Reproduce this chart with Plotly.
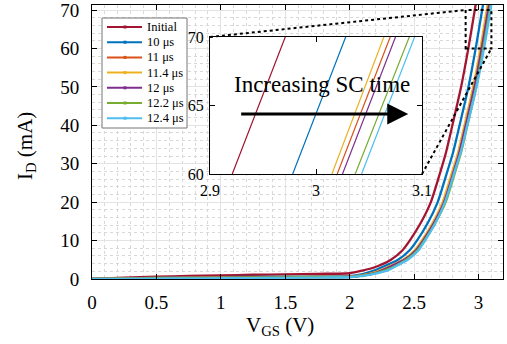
import plotly.graph_objects as go

# ---------------- data ----------------
SERIES = ["Initial", "10 \u03bcs", "11 \u03bcs", "11.4 \u03bcs", "12 \u03bcs", "12.2 \u03bcs", "12.4 \u03bcs"]
COLORS = ["#A2142F", "#0072BD", "#D95319", "#EDB120", "#7E2F8E", "#77AC30", "#4DBEEE"]

V_INITIAL = [0, 0.25, 0.5, 0.75, 1.0, 1.25, 1.5, 1.75, 2.0, 2.1, 2.19, 2.32, 2.41, 2.466, 2.55, 2.63, 2.705, 2.748, 2.797, 2.865, 2.921, 2.971, 3.0]
I_INITIAL = [0, 0.35, 0.6, 0.8, 0.95, 1.1, 1.2, 1.35, 1.5, 2.2, 3, 5, 7.5, 10, 14.5, 20, 28, 33, 40, 50, 60, 70, 76]

V_10US = [0, 0.25, 0.5, 0.75, 1.0, 1.25, 1.5, 1.75, 2.0, 2.1, 2.2, 2.245, 2.375, 2.465, 2.522, 2.605, 2.683, 2.758, 2.803, 2.853, 2.922, 2.978, 3.028, 3.058]
I_10US = [0, 0.15, 0.3, 0.4, 0.5, 0.55, 0.6, 0.68, 0.75, 1.3, 2.3, 3, 5, 7.5, 10, 14.5, 20, 28, 33, 40, 50, 60, 70, 76]

V_11US = [0, 0.25, 0.5, 0.75, 1.0, 1.25, 1.5, 1.75, 2.0, 2.1, 2.2, 2.295, 2.42, 2.51, 2.565, 2.648, 2.727, 2.802, 2.847, 2.896, 2.964, 3.020, 3.070, 3.1]
I_11US = [0, 0.12, 0.25, 0.33, 0.4, 0.45, 0.5, 0.52, 0.55, 0.95, 1.7, 3, 5, 7.5, 10, 14.5, 20, 28, 33, 40, 50, 60, 70, 76]

V_11_4US = [0, 0.25, 0.5, 0.75, 1.0, 1.25, 1.5, 1.75, 2.0, 2.1, 2.2, 2.29, 2.415, 2.505, 2.56, 2.643, 2.722, 2.797, 2.842, 2.891, 2.959, 3.015, 3.064, 3.094]
I_11_4US = [0, 0.13, 0.27, 0.36, 0.43, 0.48, 0.52, 0.56, 0.6, 1.0, 1.8, 3, 5, 7.5, 10, 14.5, 20, 28, 33, 40, 50, 60, 70, 76]

V_12US = [0, 0.25, 0.5, 0.75, 1.0, 1.25, 1.5, 1.75, 2.0, 2.1, 2.2, 2.3, 2.425, 2.515, 2.57, 2.653, 2.733, 2.808, 2.852, 2.901, 2.969, 3.025, 3.075, 3.105]
I_12US = [0, 0.12, 0.24, 0.32, 0.38, 0.43, 0.47, 0.51, 0.55, 0.9, 1.6, 3, 5, 7.5, 10, 14.5, 20, 28, 33, 40, 50, 60, 70, 76]

V_12_2US = [0, 0.25, 0.5, 0.75, 1.0, 1.25, 1.5, 1.75, 2.0, 2.1, 2.2, 2.33, 2.44, 2.527, 2.58, 2.663, 2.745, 2.82, 2.865, 2.914, 2.982, 3.037, 3.088, 3.118]
I_12_2US = [0, 0.1, 0.2, 0.28, 0.34, 0.39, 0.43, 0.47, 0.5, 0.85, 1.5, 3, 5, 7.5, 10, 14.5, 20, 28, 33, 40, 50, 60, 70, 76]

V_12_4US = [0, 0.25, 0.5, 0.75, 1.0, 1.25, 1.5, 1.75, 2.0, 2.1, 2.2, 2.3, 2.34, 2.45, 2.535, 2.585, 2.665, 2.740, 2.815, 2.862, 2.913, 2.985, 3.043, 3.093, 3.123]
I_12_4US = [0, 0.05, 0.1, 0.15, 0.2, 0.25, 0.3, 0.38, 0.45, 0.8, 1.4, 2.3, 3, 5, 7.5, 10, 14.5, 20, 28, 33, 40, 50, 60, 70, 76]

V_DATA = [V_INITIAL, V_10US, V_11US, V_11_4US, V_12US, V_12_2US, V_12_4US]
I_DATA = [I_INITIAL, I_10US, I_11US, I_11_4US, I_12US, I_12_2US, I_12_4US]

X_TICKS = [0, 0.5, 1, 1.5, 2, 2.5, 3]
X_TICKTEXT = ["0", "0.5", "1", "1.5", "2", "2.5", "3"]
Y_TICKS = [0, 10, 20, 30, 40, 50, 60, 70]
INSET_X_TICKS = [2.9, 3.0, 3.1]
INSET_X_TICKTEXT = ["2.9", "3", "3.1"]
INSET_Y_TICKS = [60, 65, 70]
ZOOM_X = [2.9, 3.1]
ZOOM_Y = [60, 70]

X_RANGE = [0, 3.19]
Y_RANGE = [0, 71.3]

FONT = "Liberation Serif, Times New Roman, serif"

W, H = 507, 344
ML, MR, MT, MB = 92, 4, 5, 65
PW, PH = W - ML - MR, H - MT - MB


def px_x(px):
    return (px - ML) / PW


def px_y(py):
    return (H - MB - py) / PH


fig = go.Figure()

for name, color, v, i in zip(SERIES, COLORS, V_DATA, I_DATA):
    fig.add_trace(go.Scatter(
        x=v, y=i, name=name, mode="lines", showlegend=False,
        line=dict(color=color, width=2.3, shape="spline", smoothing=0.6),
        xaxis="x", yaxis="y"))

for name, color, v, i in zip(SERIES, COLORS, V_DATA, I_DATA):
    fig.add_trace(go.Scatter(
        x=v, y=i, name=name, mode="lines", showlegend=False,
        line=dict(color=color, width=1.2),
        xaxis="x2", yaxis="y2"))

# inset domain (paper coords)
INSET_DX = [px_x(210), px_x(422)]
INSET_DY = [px_y(174), px_y(37)]

axis_common = dict(showline=True, linecolor="black", linewidth=1, mirror="ticks",
                   ticks="inside", ticklen=5, tickcolor="black", zeroline=False,
                   automargin=False, ticklabeloverflow="allow")

fig.update_layout(
    width=W, height=H,
    margin=dict(l=ML, r=MR, t=MT, b=MB),
    paper_bgcolor="white", plot_bgcolor="white",
    font=dict(family=FONT, color="black"),
    showlegend=False,
    xaxis=dict(range=X_RANGE, tickvals=X_TICKS, ticktext=X_TICKTEXT,
               tickfont=dict(size=19, family=FONT),
               showgrid=True, gridcolor="#e3e3e3", gridwidth=1,
               minor=dict(dtick=0.1, showgrid=True, gridcolor="#d8d8d8", griddash="dot", gridwidth=1),
               ticklabelstandoff=6,
               **axis_common),
    yaxis=dict(range=Y_RANGE, tickvals=Y_TICKS,
               tickfont=dict(size=19, family=FONT),
               showgrid=True, gridcolor="#e3e3e3", gridwidth=1,
               minor=dict(dtick=2, showgrid=True, gridcolor="#d8d8d8", griddash="dot", gridwidth=1),
               ticklabelstandoff=8,
               **axis_common),
    xaxis2=dict(domain=INSET_DX, anchor="y2", range=ZOOM_X, tickvals=INSET_X_TICKS,
                ticktext=INSET_X_TICKTEXT, tickfont=dict(size=16, family=FONT),
                showgrid=False, ticklabelstandoff=2, **axis_common),
    yaxis2=dict(domain=INSET_DY, anchor="x2", range=ZOOM_Y, tickvals=INSET_Y_TICKS,
                tickfont=dict(size=16, family=FONT),
                showgrid=False, ticklabelstandoff=2, **axis_common),
)

# axis titles
fig.add_annotation(x=px_x(280), y=px_y(326), xref="paper", yref="paper",
                   xanchor="center", yanchor="middle",
                   text="V<sub>GS</sub> (V)", showarrow=False,
                   font=dict(size=21, family=FONT, color="black"))
fig.add_annotation(x=px_x(26), y=px_y(146), xref="paper", yref="paper",
                   xanchor="center", yanchor="middle",
                   text="I<sub>D</sub> (mA)", showarrow=False, textangle=-90,
                   font=dict(size=21, family=FONT, color="black"))

# zoom rectangle on the main axes
fig.add_shape(type="rect", xref="x", yref="y", x0=ZOOM_X[0], x1=ZOOM_X[1], y0=ZOOM_Y[0], y1=ZOOM_Y[1],
              line=dict(color="black", width=2, dash="dot"))


def to_paper_x(v):
    return (v - X_RANGE[0]) / (X_RANGE[1] - X_RANGE[0])


def to_paper_y(v):
    return (v - Y_RANGE[0]) / (Y_RANGE[1] - Y_RANGE[0])


# connector lines
fig.add_shape(type="line", xref="paper", yref="paper",
              x0=INSET_DX[0], y0=INSET_DY[1], x1=to_paper_x(ZOOM_X[0]), y1=to_paper_y(ZOOM_Y[1]),
              line=dict(color="black", width=2, dash="dot"))
fig.add_shape(type="line", xref="paper", yref="paper",
              x0=INSET_DX[1], y0=INSET_DY[0], x1=to_paper_x(ZOOM_X[1]), y1=to_paper_y(ZOOM_Y[0]),
              line=dict(color="black", width=2, dash="dot"))

# inset annotation text and arrow
fig.add_annotation(x=3.006, y=66.5, xref="x2", yref="y2", text="Increasing SC time",
                   showarrow=False, font=dict(size=23, family=FONT, color="black"))
fig.add_annotation(x=3.087, y=64.38, ax=2.928, ay=64.38, xref="x2", yref="y2",
                   axref="x2", ayref="y2", text="", showarrow=True,
                   arrowhead=2, arrowsize=1.4, arrowwidth=3, arrowcolor="black")

# manual legend (box, sample lines with marker, labels)
LEG_L, LEG_R, LEG_T, LEG_B = 102, 187, 18, 128
fig.add_shape(type="rect", xref="paper", yref="paper",
              x0=px_x(LEG_L), x1=px_x(LEG_R), y0=px_y(LEG_B), y1=px_y(LEG_T),
              fillcolor="white", line=dict(color="#777777", width=1), layer="above")
for k, (name, color) in enumerate(zip(SERIES, COLORS)):
    yc = 27 + k * 15.2
    fig.add_shape(type="line", xref="paper", yref="paper",
                  x0=px_x(107), x1=px_x(142), y0=px_y(yc), y1=px_y(yc),
                  line=dict(color=color, width=2), layer="above")
    fig.add_shape(type="rect", xref="paper", yref="paper",
                  x0=px_x(123.5), x1=px_x(126.5), y0=px_y(yc + 1.5), y1=px_y(yc - 1.5),
                  fillcolor=color, line=dict(color=color, width=0), layer="above")
    fig.add_annotation(x=px_x(145), y=px_y(yc), xref="paper", yref="paper",
                       xanchor="left", yanchor="middle", text=name, showarrow=False,
                       font=dict(size=12.5, family=FONT, color="black"))

fig.write_html("out.html")
